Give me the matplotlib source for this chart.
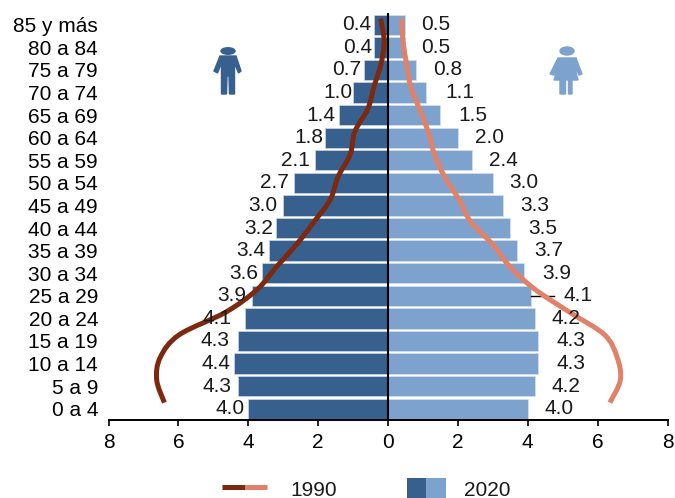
import numpy as np
import matplotlib
matplotlib.use('Agg')
import matplotlib.pyplot as plt
from matplotlib.path import Path
from matplotlib.patches import PathPatch, Ellipse, Polygon, Rectangle

plt.rcParams['font.family'] = ['Liberation Sans', 'DejaVu Sans']

ages = ['85 y más', '80 a 84', '75 a 79', '70 a 74', '65 a 69', '60 a 64',
        '55 a 59', '50 a 54', '45 a 49', '40 a 44', '35 a 39', '30 a 34',
        '25 a 29', '20 a 24', '15 a 19', '10 a 14', '5 a 9', '0 a 4']
men_2020 = [0.4, 0.4, 0.7, 1.0, 1.4, 1.8, 2.1, 2.7, 3.0, 3.2, 3.4, 3.6, 3.9, 4.1, 4.3, 4.4, 4.3, 4.0]
women_2020 = [0.5, 0.5, 0.8, 1.1, 1.5, 2.0, 2.4, 3.0, 3.3, 3.5, 3.7, 3.9, 4.1, 4.2, 4.3, 4.3, 4.2, 4.0]
men_1990 = [0.21, 0.11, 0.20, 0.40, 0.58, 0.95, 1.08, 1.43, 1.65, 2.12, 2.62, 3.20, 3.75, 4.65, 5.98, 6.52, 6.62, 6.40]
women_1990 = [0.38, 0.43, 0.53, 0.65, 0.90, 1.15, 1.33, 1.62, 2.03, 2.37, 3.00, 3.50, 4.22, 5.20, 6.20, 6.56, 6.65, 6.35]

# gap in px between bar end and its label, labels were placed by hand in the original
men_gap = [3, 2, 2, 1, 4, 2, 5, 5, 6, 3, 4, 4, 5, 13, 8, 4, 6, 4]
women_gap = [16, 16, 17, 19, 18, 17, 17, 16, 17, 18, 17, 18, 32, 17, 18, 18, 17, 17]

DARK = '#38608f'
LIGHT = '#7da2ce'
BROWN = '#7b2a10'
SALMON = '#e0826a'
FS = 15


def smooth_path(xs, ys):
    # catmull-rom through the points, as bezier segments
    pts = np.column_stack([xs, ys])
    p = np.vstack([pts[0], pts, pts[-1]])
    verts = [pts[0]]
    codes = [Path.MOVETO]
    for i in range(1, len(p) - 2):
        verts += [p[i] + (p[i + 1] - p[i - 1]) / 6, p[i + 1] - (p[i + 2] - p[i]) / 6, p[i + 1]]
        codes += [Path.CURVE4] * 3
    return Path(verts, codes)


fig = plt.figure(figsize=(6.75, 4.98), dpi=100)
ax = fig.add_axes([108.5 / 675, 78 / 498, 559 / 675, 406.5 / 498])

y = np.arange(len(ages))
ax.barh(y, -np.array(men_2020), height=0.9, color=DARK, edgecolor='#c9d6e6', linewidth=0.5)
ax.barh(y, women_2020, height=0.9, color=LIGHT, edgecolor='#d5e0ee', linewidth=0.5)
ax.axvline(0, color='black', lw=1.5, zorder=4)

for i in y:
    ax.annotate(f'{men_2020[i]:.1f}', (-men_2020[i], i), xytext=(-men_gap[i] * 0.72, 0),
                textcoords='offset points', ha='right', va='center', fontsize=FS, color='#1a1a1a', zorder=6)
    ax.annotate(f'{women_2020[i]:.1f}', (women_2020[i], i), xytext=(women_gap[i] * 0.72, 0),
                textcoords='offset points', ha='left', va='center', fontsize=FS, color='#1a1a1a', zorder=6)

# leader line for the one label pushed out
ax.plot([4.1, 4.75], [12, 12], color='black', lw=1, zorder=3)

# 1990 lines sit a bit above the row centres
line_y = y - 0.27
ax.add_patch(PathPatch(smooth_path(-np.array(men_1990), line_y), fc='none', ec=BROWN, lw=3.6, capstyle='butt', zorder=5))
ax.add_patch(PathPatch(smooth_path(women_1990, line_y), fc='none', ec=SALMON, lw=3.6, capstyle='butt', zorder=5))

ax.set_xlim(-8, 8)
ax.set_ylim(17.5, -0.5)
ax.set_xticks([-8, -6, -4, -2, 0, 2, 4, 6, 8])
ax.set_xticklabels(['8', '6', '4', '2', '0', '2', '4', '6', '8'], fontsize=FS)
ax.set_yticks(y)
ax.set_yticklabels(ages, fontsize=FS)
ax.tick_params(axis='y', length=0, pad=7.5)
ax.tick_params(axis='x', length=4, width=1.2, pad=5)
for s in ['top', 'left', 'right']:
    ax.spines[s].set_visible(False)
ax.spines['bottom'].set_linewidth(1.4)

# overlay in pixel units for icons and legend
ov = fig.add_axes([0, 0, 1, 1])
ov.set_xlim(0, 675)
ov.set_ylim(498, 0)
ov.axis('off')
ov.patch.set_alpha(0)

# man icon
ov.add_patch(Ellipse((228, 51), 14, 6.5, color=DARK))
ov.add_patch(Polygon([(220, 56), (236, 56), (241, 71), (238.5, 73), (234.5, 63), (234.5, 94), (229.5, 94),
                      (229, 76), (227, 76), (226.5, 94), (221.5, 94), (221.5, 63), (217.5, 73), (214, 71)],
                     closed=True, color=DARK))
# woman icon
ov.add_patch(Ellipse((567, 51), 14, 8, color=LIGHT))
ov.add_patch(Polygon([(558, 58), (576, 58), (582, 74), (579, 75), (574, 65), (578, 80), (572, 80), (572, 94),
                      (568.5, 94), (568.5, 80), (565.5, 80), (565.5, 94), (560, 94), (560, 80), (554, 80),
                      (559, 65), (554, 75), (550, 74)], closed=True, color=LIGHT))

# legend
ov.plot([222, 245], [487, 487], color=BROWN, lw=3.6, solid_capstyle='butt')
ov.plot([245, 267], [487, 487], color=SALMON, lw=3.6, solid_capstyle='butt')
ov.text(290, 490, '1990', fontsize=FS, ha='left', va='center', color='#1a1a1a')
ov.add_patch(Rectangle((407, 478), 19, 20, color=DARK, lw=0))
ov.add_patch(Rectangle((426, 478), 20, 20, color=LIGHT, lw=0))
ov.text(464, 490, '2020', fontsize=FS, ha='left', va='center', color='#1a1a1a')

fig.savefig('out.png', dpi=100)
